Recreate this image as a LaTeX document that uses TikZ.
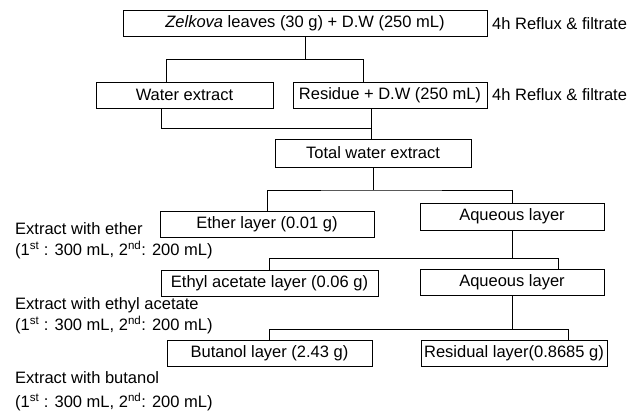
\documentclass[tikz,border=0pt]{standalone}
\usepackage{fontspec}
\setmainfont{Liberation Sans}

\begin{document}
\begin{tikzpicture}[
  x=1pt, y=-1pt,
  every node/.style={font=\fontsize{16.5}{18}\selectfont, inner sep=0pt},
  stepbox/.style={draw, line width=0.8pt, minimum height=26pt},
  note/.style={anchor=west},
  link/.style={draw=black, line width=0.8pt}
  ]
	\useasboundingbox (0,0) rectangle (643,411);

	\node[stepbox, minimum width=364pt] (zel) at (305,23.5) {\textit{Zelkova} leaves (30 g) + D.W (250 mL)};
	\node[note] (refa) at (492,23.5) {4h Reflux \& filtrate};

	\node[stepbox, minimum width=177pt] (water) at (184.5,95) {Water extract};
	\node[stepbox, minimum width=194pt] (residue) at (390,95) {Residue + D.W (250 mL)};
	\node[note] (refb) at (492,95) {4h Reflux \& filtrate};

	\node[stepbox, minimum width=196pt, minimum height=28pt] (total) at (373,153) {Total water extract};

	\node[stepbox, minimum width=214pt] (ether) at (267,224) {Ether layer (0.01 g)};
	\node[stepbox, minimum width=184pt, minimum height=27pt] (aqa) at (512,216.5) {Aqueous layer};

	\node[stepbox, minimum width=217pt] (ethyl) at (269.5,283) {Ethyl acetate layer (0.06 g)};
	\node[stepbox, minimum width=184pt] (aqb) at (512,282) {Aqueous layer};

	\node[stepbox, minimum width=205pt] (butanol) at (269.5,353) {Butanol layer (2.43 g)};
	\node[stepbox, minimum width=186pt] (residual) at (514,353) {Residual layer(0.8685 g)};

	% solvent notes on the left
	\node[note] (etha) at (15,229) {Extract with ether};
	\node[note] (ethb) at (15,250) {(1\textsuperscript{st} : 300 mL, 2\textsuperscript{nd}: 200 mL)};
	\node[note] (eaca) at (15,305) {Extract with ethyl acetate};
	\node[note] (eacb) at (15,325) {(1\textsuperscript{st} : 300 mL, 2\textsuperscript{nd}: 200 mL)};
	\node[note] (buta) at (15,378) {Extract with butanol};
	\node[note] (butb) at (15,402) {(1\textsuperscript{st} : 300 mL, 2\textsuperscript{nd}: 200 mL)};

	\coordinate (s1) at (305,59);
	\coordinate (s1l) at (166,59);
	\coordinate (s1r) at (363,59);
	\coordinate (m1) at (371,128);
	\coordinate (m2) at (373,190);
	\coordinate (m3) at (512,258);
	\coordinate (m3r) at (558,258);
	\coordinate (m4) at (512,329);
	\coordinate (m4r) at (568,329);

	\draw[link] (zel.south) -- (s1);
	\draw[link] (s1l |- water.north) |- (s1r) -- (s1r |- residue.north);

	\draw[link] ([xshift=-23.5pt]water.south) |- (m1);
	\draw[link] (residue.south -| m1) -- (total.north -| m1);

	\draw[link] (total.south) -- (m2);
	\draw[link] (ether.north) |- (m2) -| (aqa.north);

	\draw[link] (aqa.south) -- (m3);
	\draw[link] (ethyl.north) |- (m3r) -- (m3r |- aqb.north);

	\draw[link] (aqb.south) -- (m4);
	\draw[link] (butanol.north) |- (m4r) -- (m4r |- residual.north);
\end{tikzpicture}
\end{document}
